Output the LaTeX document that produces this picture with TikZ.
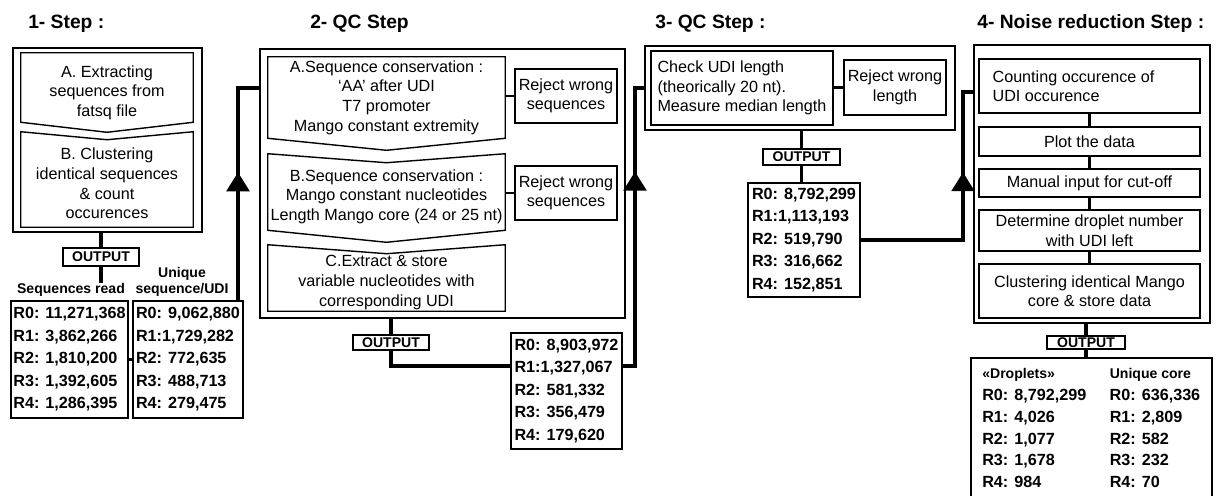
\documentclass[tikz,border=0pt]{standalone}
\usepackage{fontspec}
\setmainfont{Liberation Sans}
\usetikzlibrary{arrows.meta,calc,fit,decorations.markings}

\tikzstyle{steptitle}=[anchor=base west, inner sep=0, font=\fontsize{13.7}{16}\selectfont\bfseries]
\tikzstyle{frame}=[draw, line width=1.1pt, inner sep=0]
\tikzstyle{chevline}=[line width=1pt]
\tikzstyle{box}=[draw, line width=1pt, inner sep=0]
\tikzstyle{txt}=[inner sep=0, align=center, font=\fontsize{11.5}{13.9}\selectfont]
\tikzstyle{outtxt}=[inner sep=0, font=\fontsize{10}{12}\selectfont\bfseries]
\tikzstyle{cnt}=[inner sep=0, align=left, font=\fontsize{11.5}{16}\selectfont\bfseries]
\tikzstyle{head}=[inner sep=0, align=center, font=\fontsize{10}{11.5}\selectfont\bfseries]
\tikzstyle{flow}=[line width=2.8pt]
\tikzstyle{link}=[line width=2pt]
\tikzset{uparrow/.style={postaction={decorate}, decoration={markings, mark=at position #1 with {\arrow{Triangle[width=16pt,length=13.5pt]}}}}}

\begin{document}
\begin{tikzpicture}[x=0.025cm, y=-0.025cm]
	\useasboundingbox (0,0) rectangle (1216,495);

	% titles
	\node[steptitle] (ti1) at (28,28) {1- Step :};
	\node[steptitle] (ti2) at (310,28) {2- QC Step};
	\node[steptitle] (ti3) at (655,28) {3- QC Step :};
	\node[steptitle] (ti4) at (977,28) {4- Noise reduction Step :};

	% step 1
	\node[frame, fit={(13,48) (202,232)}] (s1) {};
	\node[inner sep=0, fit={(21,53) (193,132)}] (ex) {};
	\draw[chevline] (ex.north west) -- (ex.north east) -- ($(ex.south east)+(0,-10)$) -- (ex.south) -- ($(ex.south west)+(0,-10)$) -- cycle;
	\node[txt] at (ex.center) {A. Extracting\\sequences from\\fatsq file};
	\node[inner sep=0, fit={(21,140) (193,227)}] (cl) {};
	\draw[chevline] ($(cl.north west)+(0,-8)$) -- (cl.north) -- ($(cl.north east)+(0,-8)$) -- (cl.south east) -- (cl.south west) -- cycle;
	\node[txt] at (cl.center) {B. Clustering\\identical sequences\\\& count\\occurences};
	\node[box, fit={(63,248) (139,266)}] (out1) {};
	\node[outtxt] at (out1.center) {OUTPUT};
	\node[head] (h1) at (71,290) {Sequences read};
	\node[head] (h2) at (182,282) {Unique\\sequence/UDI};
	\node[box, fit={(11,301) (128,418)}] (t1) {};
	\node[cnt] at (t1.center) {R0: 11,271,368\\R1: 3,862,266\\R2: 1,810,200\\R3: 1,392,605\\R4: 1,286,395};
	\node[box, fit={(133,301) (243,418)}] (t2) {};
	\node[cnt] at (t2.center) {R0: 9,062,880\\R1:1,729,282\\R2: 772,635\\R3: 488,713\\R4: 279,475};
	\draw[flow] (s1.south -| out1) -- (out1.north);
	\draw[flow] (out1.south) -- (out1.south |- h1.north);
	\draw[link] (t1.east) -- (t2.west);

	% step 2
	\node[frame, fit={(260,49) (625,318)}] (s2) {};
	\node[inner sep=0, fit={(268,57) (505,138)}] (sa) {};
	\draw[chevline] (sa.north west) -- (sa.north east) -- (sa.south east) -- ($(sa.south)+(0,12)$) -- (sa.south west) -- cycle;
	\node[txt] at (sa.center) {A.Sequence conservation :\\‘AA’ after UDI\\T7 promoter\\Mango constant extremity};
	\node[inner sep=0, fit={(268,163) (505,230)}] (sb) {};
	\draw[chevline] ($(sb.north west)+(0,-9)$) -- (sb.north) -- ($(sb.north east)+(0,-9)$) -- (sb.south east) -- ($(sb.south)+(0,12)$) -- (sb.south west) -- cycle;
	\node[txt] at (sb.center) {B.Sequence conservation :\\Mango constant nucleotides\\Length Mango core (24 or 25 nt)};
	\node[inner sep=0, fit={(268,254) (505,311)}] (sc) {};
	\draw[chevline] ($(sc.north west)+(0,-9)$) -- (sc.north) -- ($(sc.north east)+(0,-9)$) -- (sc.south east) -- (sc.south west) -- cycle;
	\node[txt] at (sc.center) {C.Extract \& store\\variable nucleotides with\\corresponding UDI};
	\node[box, fit={(515,69) (617,123)}] (rj1) {};
	\node[txt] at (rj1.center) {Reject wrong\\sequences};
	\node[box, fit={(515,166) (617,220)}] (rj2) {};
	\node[txt] at (rj2.center) {Reject wrong\\sequences};
	\draw[link] (sa.east |- rj1.west) -- (rj1.west);
	\draw[link] (sb.east |- rj2.west) -- (rj2.west);
	\node[box, fit={(353,335) (429,350)}] (out2) {};
	\node[outtxt] at (out2.center) {OUTPUT};
	\node[box, fit={(511,333) (622,449)}] (t3) {};
	\node[cnt] at (t3.center) {R0: 8,903,972\\R1:1,327,067\\R2: 581,332\\R3: 356,479\\R4: 179,620};
	\draw[flow] (s2.south -| out2) -- (out2.north);
	\draw[flow] (out2.south) |- ($(t3.north west)!0.29!(t3.south west)$);
	\coordinate (j1) at (238,88);
	\draw[flow, uparrow=3.2cm] (t2.north -| j1) -- (j1) -- (j1 -| s2.west);

	% step 3
	\node[frame, fit={(645,46) (955,130)}] (s3) {};
	\node[box, fit={(651,51) (833,125)}] (ck) {};
	\node[txt, align=left] at (ck.center) {Check UDI length\\(theorically 20 nt).\\Measure median length};
	\node[box, fit={(844,60) (946,115)}] (rj3) {};
	\node[txt] at (rj3.center) {Reject wrong\\length};
	\draw[link] (ck.east |- rj3.west) -- (rj3.west);
	\node[box, fit={(763,149) (840,165)}] (out3) {};
	\node[outtxt] at (out3.center) {OUTPUT};
	\node[box, fit={(748,183) (860,297)}] (t4) {};
	\node[cnt] at (t4.center) {R0: 8,792,299\\R1:1,113,193\\R2: 519,790\\R3: 316,662\\R4: 152,851};
	\draw[flow] (s3.south -| out3) -- (out3.north);
	\draw[flow] (out3.south) -- (out3.south |- t4.north);
	\coordinate (j3) at (635,88);
	\draw[flow, uparrow=5.175cm] ($(t3.north east)!0.29!(t3.south east)$) -| (j3) -- (j3 -| s3.west);

	% step 4
	\node[frame, fit={(974,45) (1210,323)}] (s4) {};
	\node[box, fit={(979,59) (1200,113)}] (b1) {};
	\node[txt, align=left, anchor=west] at ($(b1.west)+(14,0)$) {Counting occurence of\\UDI occurence};
	\node[box, fit={(979,127) (1200,156)}] (b2) {};
	\node[txt] at (b2.center) {Plot the data};
	\node[box, fit={(979,169) (1200,197)}] (b3) {};
	\node[txt] at (b3.center) {Manual input for cut-off};
	\node[box, fit={(979,210) (1200,251)}] (b4) {};
	\node[txt] at (b4.center) {Determine droplet number\\with UDI left};
	\node[box, fit={(979,264) (1200,318)}] (b5) {};
	\node[txt] at (b5.center) {Clustering identical Mango\\core \& store data};
	\foreach \a/\b in {b1/b2,b2/b3,b3/b4,b4/b5}
		\draw[link] (\a.south) -- (\b.north);
	\node[box, fit={(1047,336) (1125,349)}] (out5) {};
	\node[outtxt] at (out5.center) {OUTPUT};
	\node[box, fit={(971,358) (1212,500)}] (t5) {};
	\node[anchor=north west, inner sep=0, font=\fontsize{11.5}{15.6}\selectfont\bfseries] (d5) at (982,362.6) {%
		\begin{tabular}{@{}l@{\hspace{16.7pt}}l@{}}
			{\fontsize{10}{12}\selectfont «Droplets»} & {\fontsize{10}{12}\selectfont Unique core}\\
			R0: 8,792,299 & R0: 636,336\\
			R1: 4,026 & R1: 2,809\\
			R2: 1,077 & R2: 582\\
			R3: 1,678 & R3: 232\\
			R4: 984 & R4: 70
		\end{tabular}};
	\draw[flow] (s4.south -| out5) -- (out5.north);
	\draw[flow] (out5.south) -- (out5.south |- t5.north);
	\coordinate (j4) at (963,92);
	\draw[flow, uparrow=4.25cm] (t4.east) -| (j4) -- (j4 -| s4.west);
\end{tikzpicture}
\end{document}
